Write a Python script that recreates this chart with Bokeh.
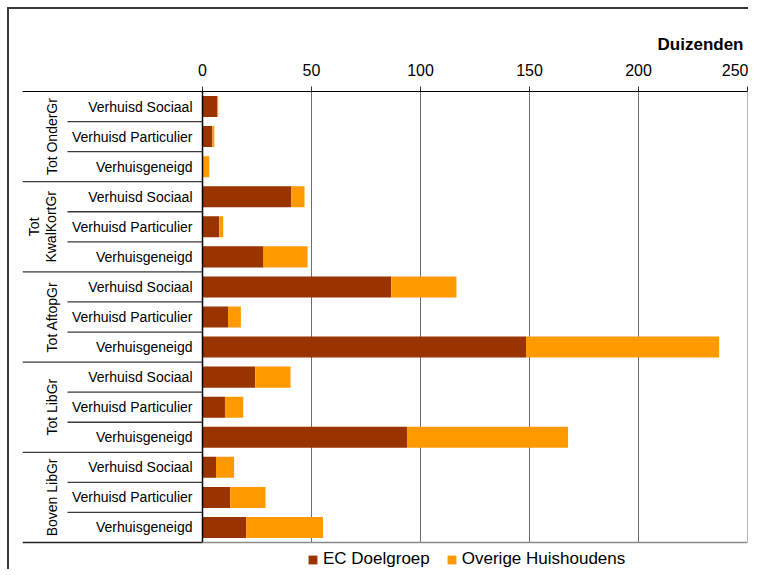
from bokeh.plotting import figure
from bokeh.models import Range1d, FixedTicker, Legend, LegendItem, Title
from bokeh.core.properties import value
from bokeh.embed import file_html
from bokeh.resources import INLINE
import numpy as np

# ---------------- data ----------------
groups = ["Tot OnderGr", "Tot\nKwalKortGr", "Tot AftopGr", "Tot LibGr", "Boven LibGr"]
subcats = ["Verhuisd Sociaal", "Verhuisd Particulier", "Verhuisgeneigd"]
ec_doelgroep = [6.8, 4.5, 0.0,
                40.8, 7.7, 28.0,
                86.6, 11.7, 148.4,
                24.2, 10.3, 93.8,
                6.2, 12.7, 20.1]
overige = [0.4, 0.9, 3.1,
           6.0, 1.8, 20.2,
           29.9, 5.9, 88.6,
           16.2, 8.4, 73.9,
           8.3, 16.2, 35.2]
x_ticks = [0, 50, 100, 150, 200, 250]
series_names = ["EC Doelgroep", "Overige Huishoudens"]
unit_label = "Duizenden"

# ---------------- layout ----------------
FONT = "Liberation Sans"
W, H = 748, 569
ML, MR, MT, MB = 22, 1, 91, 0
frame_w = W - ML - MR
x_max = 250
zero_px = 202 - 22                     # distance of 0 from frame left, px
units_per_px = x_max / (frame_w - zero_px)
x_min = -zero_px * units_per_px

n_rows = len(groups) * len(subcats)
row_px = 451 / n_rows                  # height of one category row, px
y_bottom = n_rows + (H - MT - 451) / row_px   # room below the rows for the legend
rows = np.arange(n_rows) + 0.5
labels = [s for g in groups for s in subcats]
ec = np.array(ec_doelgroep)
ov = np.array(overige)

p = figure(width=W, height=H, output_backend="svg", toolbar_location=None,
           x_range=Range1d(x_min, x_max), y_range=Range1d(y_bottom, 0),
           x_axis_location="above", min_border_left=ML, min_border_right=MR,
           min_border_top=MT, min_border_bottom=MB)
p.border_fill_color = None
p.outline_line_color = None
p.background_fill_color = None
# outer chart border: left and top edges only
p.styles = {"box-shadow": "inset 7px 7px 0 0 #ffffff, inset 9px 9px 0 0 #3a3a3a"}

p.yaxis.visible = False
p.ygrid.visible = False
p.xgrid.visible = False

ax = p.xaxis[0]
ax.ticker = FixedTicker(ticks=x_ticks)
ax.major_tick_in = 0
ax.major_tick_out = 5
ax.minor_tick_line_color = None
ax.axis_line_color = "black"
ax.major_tick_line_color = "#333333"
ax.major_label_text_font = FONT
ax.major_label_text_font_size = "16px"
ax.major_label_text_color = "black"
ax.major_label_standoff = 11

# vertical grid lines, limited to the category rows
p.segment(x0=x_ticks, y0=0, x1=x_ticks, y1=n_rows, line_color="#6e6e6e", line_width=1)

# bars
r_ec = p.hbar(y=rows, left=0, right=ec, height=0.7, fill_color="#993300", line_color=None)
r_ov = p.hbar(y=rows, left=ec, right=ec + ov, height=0.7, fill_color="#FF9900", line_color=None)

# zero line
p.segment(x0=[0], y0=[0], x1=[0], y1=[n_rows], line_color="black", line_width=1.5)

# bottom line
p.segment(x0=[x_min], y0=[n_rows], x1=[0], y1=[n_rows], line_color="#222222", line_width=1.5)
p.segment(x0=[0], y0=[n_rows], x1=[x_max], y1=[n_rows], line_color="#8a8a8a", line_width=1.5)

# separators
inner_x0 = -(202 - 67) * units_per_px
sep_inner = [i for i in range(1, n_rows) if i % len(subcats) != 0]
sep_group = [i for i in range(1, n_rows) if i % len(subcats) == 0]
p.segment(x0=inner_x0, y0=sep_inner, x1=0, y1=sep_inner, line_color="#3a3a3a", line_width=1.3)
p.segment(x0=x_min, y0=sep_group, x1=0, y1=sep_group, line_color="#3a3a3a", line_width=1.3)

# inner category labels
p.text(x=0, y=rows, text=labels, text_align="right", text_baseline="middle",
       x_offset=-10, text_font=value(FONT), text_font_size="14px", text_color="black")

# group labels (rotated)
gy = np.arange(len(groups)) * len(subcats) + len(subcats) / 2
p.text(x=x_min, y=gy, text=groups, angle=np.pi / 2, text_align="center",
       text_baseline="bottom", x_offset=37, text_font=value(FONT),
       text_font_size="14px", text_color="black", text_line_height=1.1)

# unit label as right-aligned title above the axis
t = Title(text=unit_label, align="right", text_font=FONT, text_font_size="17px",
          text_font_style="bold", text_color="black", offset=4, standoff=13)
p.add_layout(t, "above")

legend = Legend(items=[LegendItem(label=series_names[0], renderers=[r_ec]),
                       LegendItem(label=series_names[1], renderers=[r_ov])],
                orientation="horizontal", location=(285, 0),
                glyph_width=11, glyph_height=11, label_standoff=5, spacing=16,
                padding=0, margin=0, border_line_color=None, background_fill_alpha=0,
                label_text_font=FONT, label_text_font_size="17px", label_text_color="black")
p.add_layout(legend)

open("out.html", "w").write(file_html(p, INLINE))
